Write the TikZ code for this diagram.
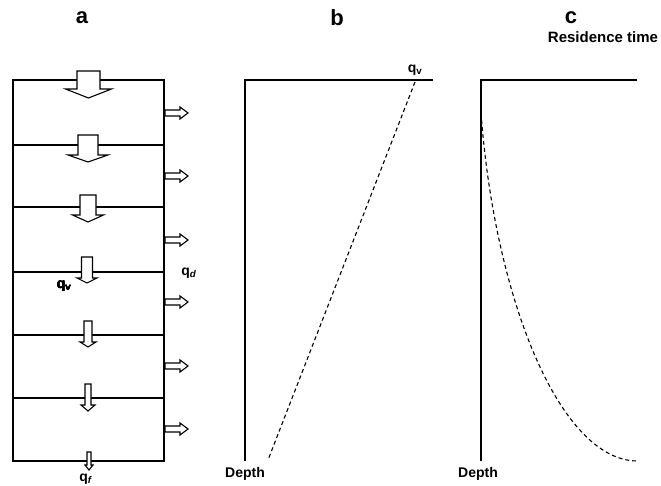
\documentclass[tikz,border=0pt]{standalone}
\usepackage{fontspec}
\setmainfont{Liberation Sans}
\usetikzlibrary{positioning}
\tikzset{
  wlbox/.style={line width=1.6pt},
  wlaxis/.style={line width=1.3pt},
  wldash/.style={line width=1.1pt, dash pattern=on 4pt off 3pt},
  wlarrow/.style={draw, line width=1.1pt, fill=white, line join=miter},
  wlpanel/.style={font=\bfseries\fontsize{22}{24}\selectfont, inner sep=0pt},
  wllabel/.style={font=\bfseries\fontsize{14}{16}\selectfont, inner sep=0pt}
}
% down arrow: x, top, head base, tip, shaft half width, head half width
\newcommand{\wldown}[6]{%
  \draw[wlarrow] (#1-#5,#2) -- (#1+#5,#2) -- (#1+#5,#3) -- (#1+#6,#3) -- (#1,#4)
    -- (#1-#6,#3) -- (#1-#5,#3) -- cycle;}
% drainage arrow at depth y
\newcommand{\wlright}[1]{%
  \draw[wlarrow] (165,#1-3) -- (180,#1-3) -- (180,#1-6) -- (188,#1) -- (180,#1+6)
    -- (180,#1+3) -- (165,#1+3) -- cycle;}

\begin{document}
\begin{tikzpicture}[x=1pt, y=-1pt]
  \useasboundingbox (0,0) rectangle (661,486);

  % a: layered column
  \node[wlpanel] (pa) at (82,18) {a};
  \draw[wlbox] (13,80) rectangle (164,461);
  \foreach \yl in {145,207,272,335,398}
    \draw[wlbox] (13,\yl) -- (164,\yl);
  \wldown{88.5}{71}{89}{98}{11.5}{23}
  \wldown{88}{135}{155}{162}{10}{20}
  \wldown{88}{195}{215}{222}{8}{15.5}
  \wldown{87}{257}{278}{283}{5.5}{10}
  \wldown{88}{321}{342}{347}{4}{8}
  \wldown{88}{384}{405}{411}{3}{7}
  \wldown{89}{452}{465}{470}{2}{4}
  \foreach \yr in {113,176,240,302,366,429}
    \wlright{\yr}
  \node[wllabel] (qv) at (64,286) {q\textsubscript{v}};
  \node[wllabel] (qd) at (189,273) {q\textsubscript{\textit{d}}};
  \node[wllabel] (qf) at (86,479) {q\textsubscript{\textit{f}}};

  % b: linear profile
  \node[wlpanel] (pb) at (337,18) {b};
  \coordinate (bo) at (245,80);
  \coordinate (bx) at (433,80);
  \coordinate (by) at (245,461);
  \draw[wlaxis] (bx) -- (bo) -- (by);
  \node[wllabel] (bdepth) at (245,474) {Depth};
  \node[wllabel] (bqv) at (415,70) {q\textsubscript{v}};
  \coordinate (bs) at (415,82);
  \coordinate (be) at (268,460);
  \draw[wldash] (bs) -- (be);

  % c: residence time
  \node[wlpanel] (pc) at (571,18) {c};
  \coordinate (co) at (481,80);
  \coordinate (cx) at (637,80);
  \coordinate (cy) at (481,461);
  \draw[wlaxis] (cx) -- (co) -- (cy);
  \node[wllabel] (cdepth) at (478,474) {Depth};
  \node[wllabel, font=\bfseries\fontsize{15}{17}\selectfont] (ctime) at (603,37) {Residence time};
  \coordinate (cs) at (481,113);
  \coordinate (ce) at (637,461);
  \draw[wldash] (cs) .. controls (495,300) and (560,460) .. (ce);
\end{tikzpicture}
\end{document}
